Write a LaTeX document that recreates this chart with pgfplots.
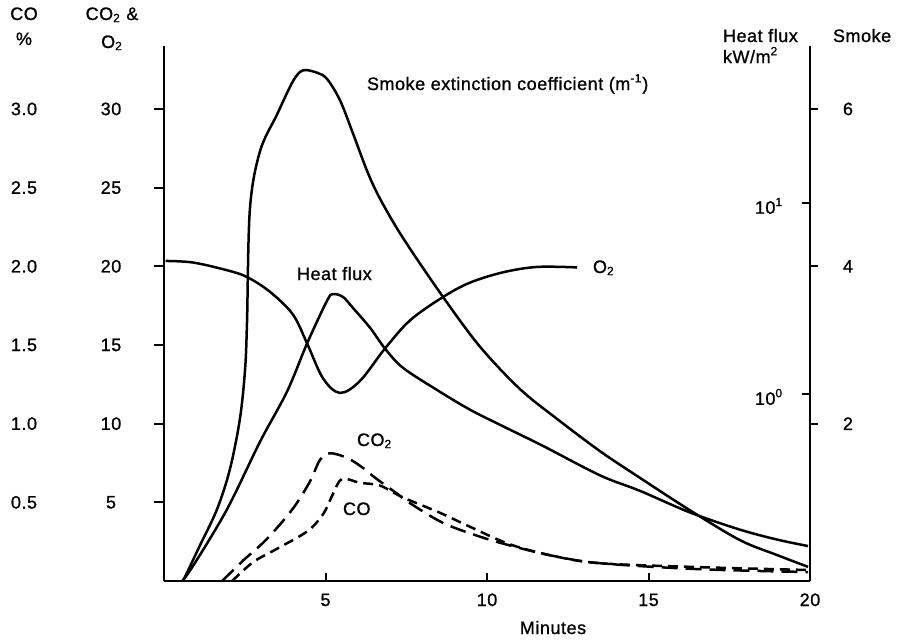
\documentclass[border=0pt]{standalone}
\usepackage{fontspec}
\setmainfont{Liberation Sans}[LetterSpace=3, FakeBold=1]
\setsansfont{Liberation Sans}[LetterSpace=3, FakeBold=1]
\usepackage{pgfplots}
\pgfplotsset{compat=1.18}
\pgfplotsset{
  base/.style={
    scale only axis, width=323pt, height=267.5pt,
    at={(0pt,0pt)}, anchor=south west,
    xmin=0, xmax=20, clip=false,
    tick style={black, line width=1pt},
    major tick length=5pt,
    /pgf/number format/assume math mode=true,
    tick label style={font=\fontsize{9}{11}\selectfont},
  },
  noarrows/.style={
    every outer x axis line/.append style={-},
    every outer y axis line/.append style={-},
    every inner x axis line/.append style={-},
    every inner y axis line/.append style={-},
    x axis line style={-, line width=1.1pt},
    y axis line style={-, line width=1.1pt},
  },
  crv/.style={black, line width=1.25pt, smooth, tension=0.55},
}
\begin{document}
\begin{tikzpicture}[font=\fontsize{9}{11}\selectfont, lbl/.style={inner sep=0pt, outer sep=0pt}]
\path[use as bounding box] (-82pt,-29pt) rectangle (368pt,290.5pt);
% x axis, O2 and CO2 (%)
\begin{axis}[base, ymin=0, ymax=34,
  axis x line=bottom, axis y line=none,
  xtick={5,10,15,20}, ytick=\empty, tick align=inside, major tick length=4pt,
  xticklabel style={anchor=base, yshift=-12.5pt}, noarrows]
\addplot[crv] coordinates {(0.05,20.34) (0.90,20.24) (1.95,19.75) (2.57,19.32) (3.28,18.38) (3.99,16.94) (4.43,15.10) (4.92,12.89) (5.45,11.95) (6.07,12.72) (6.84,14.77) (7.62,16.57) (8.64,18.05) (9.47,18.96) (10.50,19.62) (11.55,19.96) (12.79,19.93)};
\addplot[crv, dash pattern=on 8pt off 4pt] coordinates {(1.80,0) (2.45,1.30) (3.19,2.68) (3.99,4.60) (4.52,6.33) (4.83,7.70) (5.14,8.12) (5.67,7.82) (6.16,7.19) (6.53,6.57) (7.21,5.56) (7.62,4.94) (8.64,3.69) (9.78,2.82) (10.80,2.21) (12.04,1.60) (13.50,1.13) (16.59,0.75) (19.94,0.57)};
\end{axis}
% left axis: CO2 & O2
\begin{axis}[base, ymin=0, ymax=34,
  axis x line=none, axis y line=left, xtick=\empty,
  ytick={5,10,15,20,25,30}, tick align=outside,
  yticklabel style={anchor=center, xshift=-21.5pt}, noarrows]
\end{axis}
% CO %
\begin{axis}[base, ymin=0, ymax=3.4,
  axis x line=none, axis y line=left, xtick=\empty,
  ytick={0.5,1.0,1.5,2.0,2.5,3.0}, major tick length=0pt, ytick style={draw=none},
  yticklabel style={anchor=center, xshift=-70pt, /pgf/number format/.cd, fixed, fixed zerofill, precision=1},
  noarrows, y axis line style={draw=none}]
\addplot[crv, dash pattern=on 5pt off 3pt] coordinates {(2.11,0) (2.76,0.120) (3.50,0.205) (4.43,0.315) (4.92,0.423) (5.23,0.552) (5.51,0.648) (6.07,0.624) (6.69,0.606) (7.40,0.531) (8.55,0.433) (9.47,0.345) (10.71,0.233) (12.04,0.160) (13.50,0.113) (16.60,0.088) (19.94,0.070)};
\end{axis}
% Smoke (right, outer)
\begin{axis}[base, ymin=0, ymax=6.8,
  axis x line=none, axis y line=right, xtick=\empty,
  ytick={2,4,6}, tick align=outside, major tick length=4pt,
  yticklabel style={anchor=center, xshift=15pt}, noarrows]
\addplot[crv] coordinates {(0.59,0) (1.11,0.45) (1.64,0.91) (2.04,1.42) (2.35,2.06) (2.51,2.69) (2.57,3.29) (2.66,4.73) (2.97,5.46) (3.50,5.93) (3.99,6.35) (4.30,6.49) (4.74,6.46) (5.05,6.38) (5.45,6.11) (5.85,5.69) (6.30,5.20) (6.70,4.85) (7.40,4.36) (8.64,3.61) (9.78,2.98) (11.02,2.44) (12.17,2.06) (13.50,1.65) (14.74,1.31) (16.28,0.90) (17.83,0.52) (18.98,0.33) (19.94,0.18)};
\end{axis}
% Heat flux (right, log)
\begin{axis}[base, ymode=log, ymin=0.105, ymax=66.2,
  axis x line=none, axis y line=right, xtick=\empty,
  ytick={1,10}, yticklabels={10\textsuperscript{0},10\textsuperscript{1}}, yminorticks=false,
  tick align=inside, major tick length=4pt,
  yticklabel style={anchor=center, xshift=-20.5pt, yshift=-1.5pt},
  noarrows, y axis line style={draw=none}]
\addplot[crv] coordinates {(0.56,0.105) (0.90,0.126) (1.95,0.249) (2.97,0.561) (3.81,1.03) (4.43,1.84) (5.05,3.08) (5.23,3.33) (5.54,3.22) (5.85,2.82) (6.38,2.22) (6.84,1.73) (7.40,1.37) (8.45,1.05) (9.47,0.828) (10.50,0.677) (11.73,0.535) (13.50,0.375) (14.74,0.311) (16.28,0.240) (17.83,0.195) (18.98,0.173) (19.94,0.160)};
\end{axis}
% headers and labels
\node[lbl, anchor=base] at (-70pt,280.5pt) {CO};
\node[lbl, anchor=base] at (-70pt,268pt) {\%};
\node[lbl, anchor=base] at (-26pt,280.5pt) {CO\textsubscript{2} \&};
\node[lbl, anchor=base] at (-26pt,266.5pt) {O\textsubscript{2}};
\node[lbl, anchor=base west] at (279.5pt,269.5pt) {Heat flux};
\node[lbl, anchor=base west] at (279.5pt,259pt) {kW/m\textsuperscript{2}};
\node[lbl, anchor=base west] at (334.5pt,269.5pt) {Smoke};
\node[lbl, anchor=base] at (194.5pt,-26.5pt) {Minutes};
\node[lbl, anchor=base west] at (101.5pt,245.5pt) {Smoke extinction coefficient (m\textsuperscript{-1})};
\node[lbl, anchor=base west] at (66.5pt,150.5pt) {Heat flux};
\node[lbl, anchor=base west] at (214.5pt,154pt) {O\textsubscript{2}};
\node[lbl, anchor=base west] at (96.5pt,67.5pt) {CO\textsubscript{2}};
\node[lbl, anchor=base west] at (89.5pt,33pt) {CO};
\end{tikzpicture}
\end{document}
